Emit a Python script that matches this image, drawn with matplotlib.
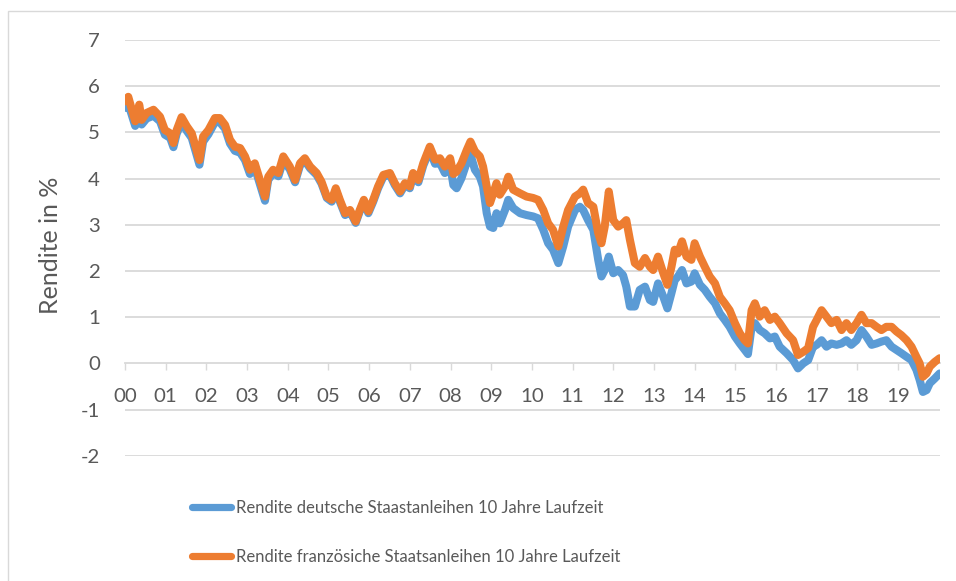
import numpy as np
import matplotlib
matplotlib.use("Agg")
import matplotlib.pyplot as plt
from matplotlib.lines import Line2D
from matplotlib.patches import Rectangle

plt.rcParams['font.family'] = ['Lato', 'DejaVu Sans']

# Zeit in Jahren ab Jan 2000, Renditen in %
years = [0.00, 0.08, 0.25, 0.35, 0.41, 0.53, 0.70, 0.86, 0.98, 1.11,
         1.19, 1.27, 1.39, 1.52, 1.64, 1.83, 1.92, 2.05, 2.21, 2.33,
         2.46, 2.58, 2.70, 2.83, 2.95, 3.07, 3.19, 3.44, 3.52, 3.64,
         3.77, 3.89, 4.05, 4.18, 4.30, 4.42, 4.55, 4.71, 4.83, 4.96,
         5.08, 5.18, 5.28, 5.41, 5.53, 5.67, 5.77, 5.87, 5.98, 6.10,
         6.22, 6.35, 6.51, 6.63, 6.76, 6.88, 7.00, 7.08, 7.21, 7.33,
         7.49, 7.62, 7.74, 7.86, 7.99, 8.07, 8.15, 8.27, 8.40, 8.49,
         8.60, 8.72, 8.80, 8.89, 8.97, 9.05, 9.13, 9.21, 9.34, 9.42,
         9.54, 9.71, 9.87, 10.03, 10.15, 10.28, 10.40, 10.52, 10.65, 10.77,
         10.89, 11.06, 11.18, 11.26, 11.38, 11.51, 11.63, 11.71, 11.79, 11.89,
         12.00, 12.12, 12.24, 12.32, 12.41, 12.53, 12.65, 12.78, 12.90, 12.98,
         13.10, 13.23, 13.33, 13.43, 13.51, 13.59, 13.69, 13.80, 13.92, 14.00,
         14.13, 14.25, 14.37, 14.50, 14.62, 14.74, 14.86, 14.99, 15.11, 15.23,
         15.31, 15.40, 15.48, 15.60, 15.72, 15.85, 15.97, 16.09, 16.26, 16.42,
         16.54, 16.67, 16.79, 16.91, 17.00, 17.12, 17.24, 17.36, 17.49, 17.61,
         17.73, 17.85, 17.98, 18.10, 18.22, 18.35, 18.47, 18.59, 18.71, 18.84,
         18.96, 19.08, 19.21, 19.33, 19.45, 19.53, 19.61, 19.70, 19.78, 19.90,
         20.02]

fr_yield = [5.67, 5.77, 5.24, 5.60, 5.27, 5.42, 5.49, 5.34, 5.05, 4.98,
            4.77, 5.05, 5.33, 5.13, 4.98, 4.40, 4.91, 5.05, 5.31, 5.31,
            5.16, 4.84, 4.69, 4.66, 4.48, 4.19, 4.33, 3.61, 4.04, 4.19,
            4.12, 4.48, 4.26, 3.97, 4.33, 4.44, 4.26, 4.12, 3.93, 3.61,
            3.54, 3.79, 3.54, 3.25, 3.32, 3.07, 3.32, 3.54, 3.29, 3.54,
            3.83, 4.08, 4.12, 3.90, 3.72, 3.90, 3.83, 4.12, 3.97, 4.33,
            4.69, 4.41, 4.44, 4.26, 4.44, 4.10, 4.15, 4.33, 4.62, 4.80,
            4.59, 4.48, 4.26, 3.83, 3.47, 3.68, 3.90, 3.65, 3.83, 4.04,
            3.76, 3.68, 3.61, 3.58, 3.54, 3.32, 3.03, 2.89, 2.53, 2.96,
            3.32, 3.61, 3.68, 3.76, 3.47, 3.39, 2.82, 2.60, 2.96, 3.72,
            3.10, 2.96, 3.03, 3.10, 2.67, 2.17, 2.09, 2.28, 2.09, 2.02,
            2.31, 1.95, 1.70, 2.09, 2.46, 2.38, 2.64, 2.31, 2.24, 2.60,
            2.31, 2.09, 1.88, 1.73, 1.44, 1.30, 1.15, 0.87, 0.65, 0.50,
            0.43, 1.15, 1.30, 1.01, 1.15, 0.94, 1.01, 0.87, 0.65, 0.50,
            0.18, 0.25, 0.33, 0.79, 0.94, 1.15, 1.01, 0.87, 0.94, 0.72,
            0.87, 0.72, 0.87, 1.05, 0.87, 0.87, 0.79, 0.72, 0.79, 0.79,
            0.69, 0.61, 0.50, 0.36, 0.14, 0.00, -0.29, -0.22, -0.07, 0.03,
            0.11]

de_yield = [5.53, 5.62, 5.14, 5.48, 5.17, 5.30, 5.36, 5.24, 4.95, 4.88,
            4.68, 4.97, 5.22, 5.03, 4.88, 4.30, 4.80, 4.96, 5.22, 5.22,
            5.08, 4.76, 4.60, 4.56, 4.40, 4.10, 4.24, 3.52, 3.97, 4.12,
            4.05, 4.40, 4.20, 3.92, 4.28, 4.39, 4.22, 4.08, 3.89, 3.58,
            3.50, 3.75, 3.50, 3.21, 3.29, 3.04, 3.29, 3.50, 3.25, 3.50,
            3.79, 4.04, 4.08, 3.86, 3.68, 3.86, 3.79, 4.07, 3.92, 4.28,
            4.62, 4.32, 4.34, 4.12, 4.30, 3.86, 3.79, 4.01, 4.35, 4.52,
            4.19, 4.04, 3.83, 3.25, 2.96, 2.93, 3.25, 3.03, 3.32, 3.54,
            3.36, 3.25, 3.21, 3.18, 3.14, 2.89, 2.60, 2.46, 2.17, 2.53,
            2.96, 3.32, 3.39, 3.32, 3.10, 2.89, 2.24, 1.88, 2.02, 2.31,
            1.95, 2.02, 1.91, 1.66, 1.23, 1.23, 1.59, 1.66, 1.37, 1.33,
            1.73, 1.44, 1.19, 1.52, 1.80, 1.88, 2.02, 1.73, 1.77, 1.95,
            1.70, 1.59, 1.44, 1.30, 1.08, 0.94, 0.79, 0.58, 0.43, 0.29,
            0.20, 0.79, 0.87, 0.72, 0.65, 0.54, 0.58, 0.36, 0.22, 0.07,
            -0.11, 0.00, 0.07, 0.36, 0.40, 0.50, 0.36, 0.43, 0.40, 0.43,
            0.50, 0.40, 0.50, 0.72, 0.58, 0.40, 0.43, 0.47, 0.50, 0.36,
            0.29, 0.22, 0.14, 0.07, -0.14, -0.36, -0.62, -0.58, -0.43, -0.33,
            -0.22]

year_labels = ["00", "01", "02", "03", "04", "05", "06", "07", "08", "09",
               "10", "11", "12", "13", "14", "15", "16", "17", "18", "19"]
y_ticks = [-2, -1, 0, 1, 2, 3, 4, 5, 6, 7]

label_de = "Rendite deutsche Staastanleihen 10 Jahre Laufzeit"
label_fr = "Rendite französiche Staatsanleihen 10 Jahre Laufzeit"

blue = "#5b9bd5"
orange = "#ed7d31"
grid_col = "#d9d9d9"
text_col = "#595959"

fig = plt.figure(figsize=(9.56, 5.81), dpi=100)

# hellgrauer Rahmen wie im Excel-Diagramm
fig.patches.append(Rectangle((8 / 956, -0.5), 2.0, 0.5 + (1 - 11 / 581),
                             transform=fig.transFigure, fill=False,
                             edgecolor=grid_col, linewidth=1.0))

ax = fig.add_axes([125 / 956, 1 - 455.7 / 581, 815 / 956, (455.7 - 40) / 581])

line_de, = ax.plot(years, de_yield, color=blue, linewidth=5.8,
                   solid_capstyle='round', solid_joinstyle='round', zorder=3)
line_fr, = ax.plot(years, fr_yield, color=orange, linewidth=5.8,
                   solid_capstyle='round', solid_joinstyle='round', zorder=4)

ax.set_xlim(0, 20.03)
ax.set_ylim(-2, 7)

for v in y_ticks:
    if v != 0:
        ax.axhline(v, color=grid_col, linewidth=1.3, zorder=1)

for s in ['top', 'right', 'left']:
    ax.spines[s].set_visible(False)
ax.spines['bottom'].set_position(('data', 0))
ax.spines['bottom'].set_color(grid_col)
ax.spines['bottom'].set_linewidth(1.3)
ax.spines['bottom'].set_zorder(1)

ax.set_xticks(np.arange(len(year_labels)))
ax.set_xticklabels(year_labels)
ax.tick_params(axis='x', direction='out', length=5, width=1.0, color=grid_col,
               labelsize=14.7, labelcolor=text_col, pad=13)

ax.set_yticks(y_ticks)
ax.set_yticklabels([str(v) for v in y_ticks])
ax.tick_params(axis='y', length=0, labelsize=14.7, labelcolor=text_col, pad=18)

ax.set_ylabel("Rendite in %", fontsize=18, color=text_col)
ax.yaxis.set_label_coords(-0.077, 0.505)

handles = [Line2D([], [], color=blue, linewidth=5.2, solid_capstyle='round'),
           Line2D([], [], color=orange, linewidth=5.2, solid_capstyle='round')]
leg = fig.legend(handles, [label_de, label_fr], loc='upper left',
                 bbox_to_anchor=(192 / 956, 1 - 500 / 581), frameon=False,
                 fontsize=12.0, handlelength=2.35, handletextpad=0.3,
                 labelspacing=1.95, borderpad=0, borderaxespad=0)
for t in leg.get_texts():
    t.set_color(text_col)

fig.savefig("out.png", dpi=100)
